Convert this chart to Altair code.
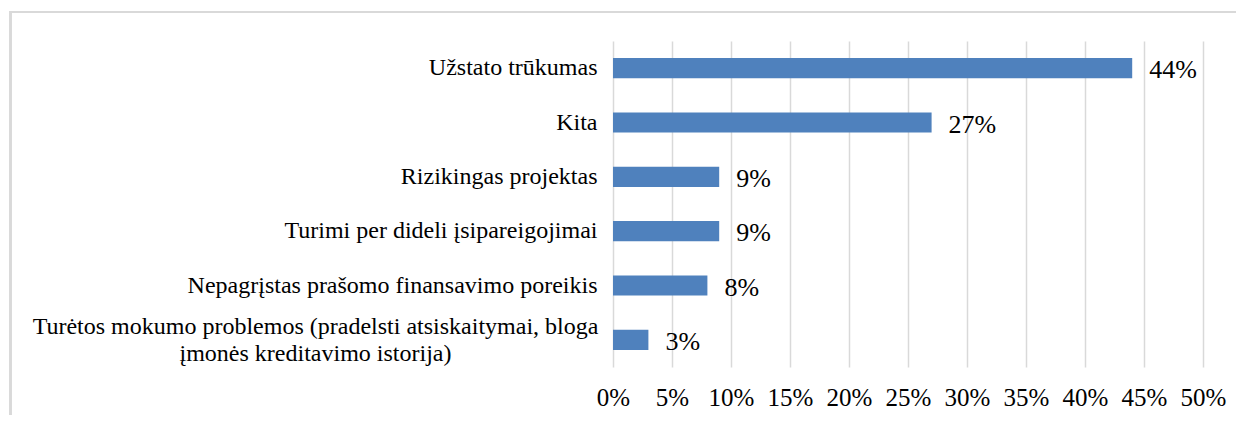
import altair as alt
import pandas as pd

categories = [
    "Užstato trūkumas",
    "Kita",
    "Rizikingas projektas",
    "Turimi per dideli įsipareigojimai",
    "Nepagrįstas prašomo finansavimo poreikis",
    "Turėtos mokumo problemos (pradelsti atsiskaitymai, bloga\nįmonės kreditavimo istorija)",
]
values = [44, 27, 9, 9, 8, 3]
x_ticks = [0, 5, 10, 15, 20, 25, 30, 35, 40, 45, 50]

df = pd.DataFrame({"category": categories, "value": values})

FONT = "'Liberation Serif', 'Times New Roman', Times, serif"
BAR = "#4f81bd"
GRID = "#d9d9d9"
TWO_LINE = "indexof(datum.value, 'Turėtos') == 0"

y_enc = alt.Y(
    "category:N",
    sort=None,
    title=None,
    scale=alt.Scale(paddingInner=0.63, paddingOuter=0.315),
    axis=alt.Axis(
        labelFont=FONT,
        labelFontSize=24,
        labelColor="#000000",
        labelPadding={"condition": {"test": TWO_LINE, "value": 298}, "value": 16},
        labelAlign={"condition": {"test": TWO_LINE, "value": "center"}, "value": "right"},
        labelOffset={"condition": {"test": TWO_LINE, "value": -13}, "value": 0},
        labelLimit=1000,
        labelLineHeight=27,
        labelExpr="split(datum.label, '\\n')",
        ticks=False,
        domain=False,
        grid=False,
    ),
)

x_enc = alt.X(
    "value:Q",
    title=None,
    scale=alt.Scale(domain=[0, 50], nice=False),
    axis=alt.Axis(
        values=x_ticks,
        labelExpr="datum.value + '%'",
        labelFont=FONT,
        labelFontSize=25,
        labelColor="#000000",
        labelPadding=18,
        labelOverlap=False,
        labelFlush=False,
        ticks=False,
        domain=False,
        grid=True,
        gridColor=GRID,
        gridWidth=1.5,
    ),
)

bars = alt.Chart(df).mark_bar(color=BAR).encode(x=x_enc, y=y_enc)

labels = (
    alt.Chart(df)
    .transform_calculate(lbl="datum.value + '%'")
    .mark_text(align="left", baseline="middle", dx=17, dy=2, font=FONT, fontSize=26, color="#000000")
    .encode(x="value:Q", y=alt.Y("category:N", sort=None), text="lbl:N")
)

frame_left = alt.Chart(df).mark_rule(color=GRID, strokeWidth=2).encode(
    x=alt.value(-602.5), y=alt.value(-29), y2=alt.value(374)
)
frame_top = alt.Chart(df).mark_rule(color=GRID, strokeWidth=2).encode(
    x=alt.value(-603.5), x2=alt.value(623), y=alt.value(-29)
)

chart = (
    alt.layer(bars, labels, frame_left, frame_top)
    .properties(
        width=590,
        height=326,
        autosize="none",
        padding={"left": 605, "top": 33, "right": 33, "bottom": 48},
        background="white",
    )
    .configure_view(stroke=None)
)

chart.save("out.html", embed_options={"renderer": "svg", "actions": False})
